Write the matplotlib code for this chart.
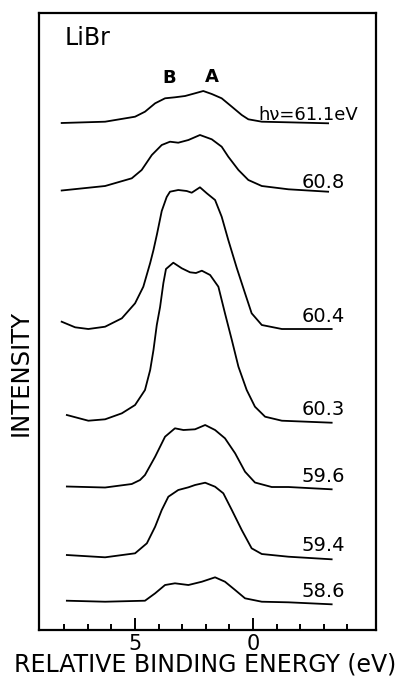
import numpy as np
import matplotlib
matplotlib.use("Agg")
from matplotlib import pyplot as plt

# photon energies of the spectra (top to bottom)
photon_labels = ["h\u03bd=61.1eV", "60.8", "60.4", "60.3", "59.6", "59.4", "58.6"]

# vertical offset of each spectrum (arbitrary intensity units)
baselines = [507, 440, 301, 209, 143, 74, 29]

# relative binding energy (eV) and intensity above baseline
E1 = [8.11, 6.27, 5.00, 4.58, 4.15, 3.73, 3.31, 2.88, 2.46, 2.11, 1.75, 1.33, 0.90, 0.48, 0.20, -0.37, -1.48, -3.18]
I1 = [0, 1.3, 6.3, 11.3, 19.7, 24.7, 25.7, 27, 29.7, 32, 29, 24.7, 16.3, 8, 3.7, 1.3, 0.7, -0.3]

E2 = [8.11, 6.27, 5.14, 4.72, 4.29, 3.87, 3.52, 3.17, 2.74, 2.25, 1.75, 1.33, 1.05, 0.62, 0.20, -0.37, -1.50, -3.18]
I2 = [-0.5, 4, 11.7, 20, 35, 45, 48.3, 47.3, 50, 55, 50.7, 43.3, 33.3, 20, 10, 4, 0.7, -1.7]

E3 = [8.11, 7.54, 6.98, 6.27, 5.56, 5.00, 4.65, 4.36, 4.22, 4.07, 3.87, 3.66, 3.52, 3.17, 2.81, 2.60,
      2.25, 1.96, 1.61, 1.33, 1.05, 0.69, 0.34, 0.06, -0.37, -1.22, -3.33]
I3 = [7.3, 1.7, 0, 2.3, 10.7, 25.7, 42.3, 66, 79, 95, 118, 132, 137.3, 139, 138, 136.3,
      141.7, 135.7, 129, 112.3, 89, 61, 35.7, 15.7, 4, 0, 0]

E4 = [7.89, 6.98, 6.27, 5.56, 5.00, 4.58, 4.36, 4.22, 4.08, 3.94, 3.80, 3.69, 3.38, 3.02, 2.67, 2.42,
      2.17, 1.82, 1.47, 1.19, 0.90, 0.62, 0.27, -0.08, -0.51, -1.22, -3.33]
I4 = [6, 0.3, 1.7, 7.7, 16, 31, 51, 71, 96, 114, 138, 152, 158.3, 152.7, 148.7, 148,
      150.3, 146, 134.3, 107.7, 81, 54.3, 31, 14.3, 4.3, 0.3, -1.7]

E5 = [7.89, 6.27, 5.14, 4.79, 4.58, 4.15, 3.73, 3.31, 2.95, 2.46, 2.03, 1.61, 1.19, 0.76, 0.34, -0.08, -0.79, -1.50, -3.33]
I5 = [0.5, -0.5, 3, 7, 12, 30.3, 50.3, 58.7, 57, 57.7, 62, 57, 48.7, 33.7, 15.3, 4.5, 0, 0, -2.3]

E6 = [7.89, 6.27, 5.00, 4.50, 4.15, 3.87, 3.59, 3.17, 2.74, 2.46, 2.03, 1.61, 1.26, 0.90, 0.48, 0.06, -0.37, -1.50, -3.33]
I6 = [1, -1.3, 2.7, 12.7, 29.3, 46, 59.3, 66, 68.7, 71, 73.3, 69.3, 62.7, 46, 26, 7.7, 2, -0.7, -3.3]

E7 = [7.89, 6.27, 4.58, 4.15, 3.73, 3.31, 2.74, 2.17, 1.61, 1.19, 0.76, 0.34, -0.37, -1.50, -3.33]
I7 = [0.3, -0.7, 0.3, 7.7, 16, 17.7, 16, 19.3, 23.7, 19.3, 11, 2.7, -0.7, -1.3, -3.3]

energies = [E1, E2, E3, E4, E5, E6, E7]
intensities = [I1, I2, I3, I4, I5, I6, I7]

major_ticks = [5, 0]
minor_ticks = [8, 7, 6, 4, 3, 2, 1, -1, -2, -3, -4]

font = "DejaVu Sans"

fig = plt.figure(figsize=(4.01, 6.77), dpi=100)
ax = fig.add_axes([0.0973, 0.0694, 0.8404, 0.9114])

for e, inten, base in zip(energies, intensities, baselines):
    ax.plot(e, np.array(inten) + base, color="black", lw=1.3, solid_joinstyle="round")

# labels sit just above the right-hand tail of each spectrum
label_offsets = [3, 2, 7, 6, 5, 5, 4]
for i, (lab, base) in enumerate(zip(photon_labels, baselines)):
    x = -0.21 if i == 0 else -2.05
    ax.text(x, base + label_offsets[i], lab, family=font, fontsize=14 if i else 13,
            ha="left", va="baseline")

ax.text(3.56, 552, "B", family=font, fontsize=13, weight="bold", ha="center", va="center")
ax.text(1.74, 553, "A", family=font, fontsize=13, weight="bold", ha="center", va="center")
ax.text(7.97, 585, "LiBr", family=font, fontsize=17, ha="left", va="baseline")

ax.set_xlim(9.07, -5.21)
ax.set_ylim(0, 617)
ax.set_yticks([])
ax.set_xticks(major_ticks)
ax.set_xticks(minor_ticks, minor=True)
ax.set_xticklabels([str(t) for t in major_ticks], family=font, fontsize=15)
ax.tick_params(axis="x", which="major", direction="in", length=9, width=1.4, pad=3)
ax.tick_params(axis="x", which="minor", direction="in", length=4, width=1.4)
for s in ax.spines.values():
    s.set_linewidth(1.6)

fig.text(0.052, 1 - 373 / 677, "INTENSITY", family=font, fontsize=17.5, rotation=90,
         ha="center", va="center")
fig.text(0.511, 0.018, "RELATIVE BINDING ENERGY (eV)", family=font, fontsize=17,
         ha="center", va="center")

fig.savefig("out.png", dpi=100)
